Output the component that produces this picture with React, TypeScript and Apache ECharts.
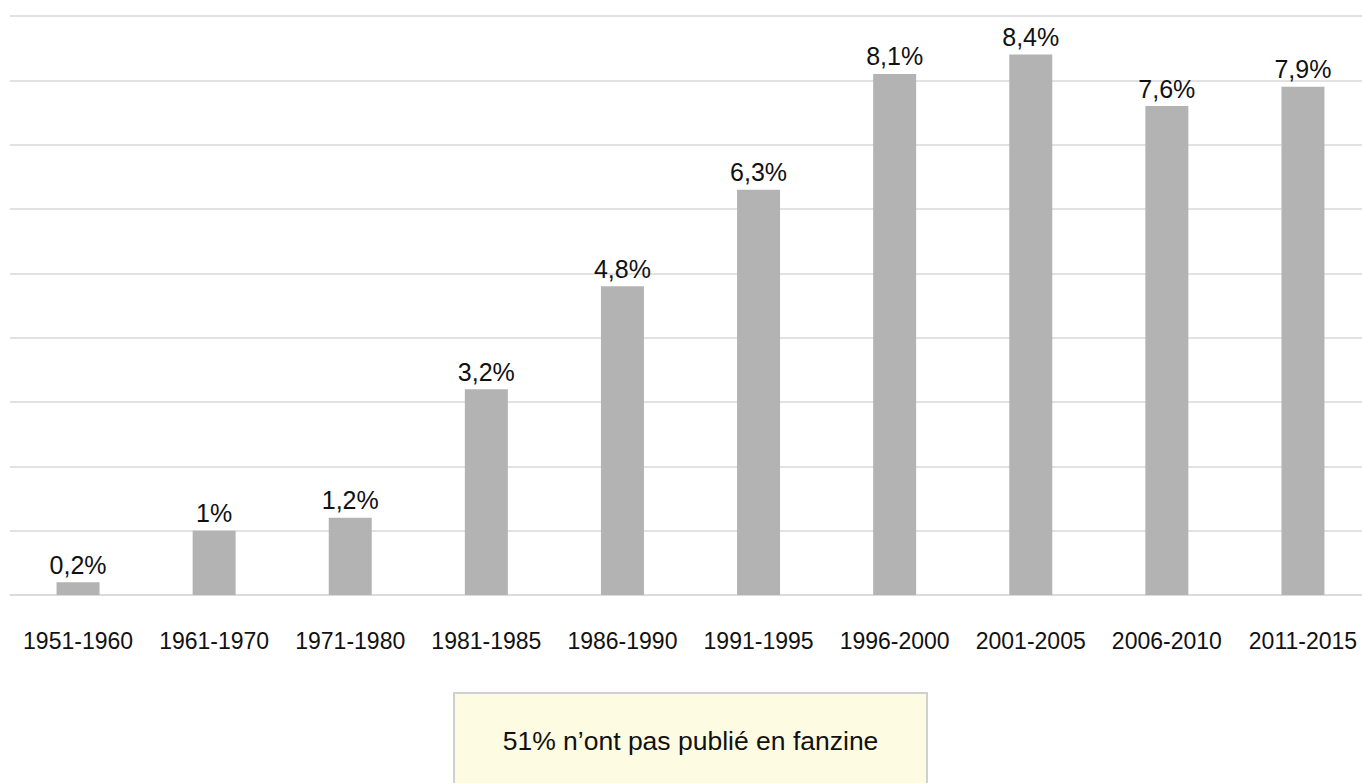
import React, { useEffect, useRef } from "react";
import * as echarts from "echarts";

const categories = [
  "1951-1960", "1961-1970", "1971-1980", "1981-1985", "1986-1990",
  "1991-1995", "1996-2000", "2001-2005", "2006-2010", "2011-2015",
];
const shares = [0.2, 1, 1.2, 3.2, 4.8, 6.3, 8.1, 8.4, 7.6, 7.9];
const yTicks = { min: 0, max: 9, interval: 1 };
const noteText = "51% n\u2019ont pas publié en fanzine";

const FONT = "'Liberation Sans', Arial, Helvetica, sans-serif";

export default function App() {
  const ref = useRef<HTMLDivElement>(null);
  useEffect(() => {
    if (!ref.current) return;
    const chart = echarts.init(ref.current, undefined, { renderer: "svg" });
    chart.setOption({
      animation: false,
      backgroundColor: "#ffffff",
      grid: { left: 10, right: 0, top: 16, bottom: 188, containLabel: false },
      xAxis: {
        type: "category",
        data: categories,
        axisTick: { show: false },
        axisLine: { lineStyle: { color: "#d9d9d9", width: 1.5 } },
        axisLabel: {
          interval: 0,
          margin: 34,
          fontSize: 23,
          color: "#111111",
          fontFamily: FONT,
        },
      },
      yAxis: {
        type: "value",
        min: yTicks.min,
        max: yTicks.max,
        interval: yTicks.interval,
        axisLabel: { show: false },
        axisLine: { show: false },
        axisTick: { show: false },
        splitLine: { lineStyle: { color: "#d9d9d9", width: 1.5 } },
      },
      series: [
        {
          type: "bar",
          data: shares,
          barWidth: 43,
          itemStyle: { color: "#b3b3b3" },
          label: {
            show: true,
            position: "top",
            distance: 5,
            fontSize: 25,
            color: "#111111",
            fontFamily: FONT,
            formatter: (p: any) => String(p.value).replace(".", ",") + "%",
          },
        },
      ],
      graphic: [
        {
          type: "group",
          left: 453,
          top: 692,
          children: [
            {
              type: "rect",
              shape: { x: 0, y: 0, width: 473, height: 120 },
              style: { fill: "#fdfce2", stroke: "#d0d0d0", lineWidth: 2 },
            },
            {
              type: "text",
              x: 236.5,
              y: 48,
              style: {
                text: noteText,
                fontSize: 26.5,
                fontFamily: FONT,
                fill: "#111111",
                align: "center",
                verticalAlign: "middle",
              },
            },
          ],
        },
      ],
    });
    return () => chart.dispose();
  }, []);
  return (
    <div
      style={{
        position: "fixed",
        left: 0,
        top: 0,
        width: 1362,
        height: 783,
        overflow: "hidden",
      }}
    >
      <div ref={ref} style={{ width: 1371, height: 783 }} />
    </div>
  );
}
